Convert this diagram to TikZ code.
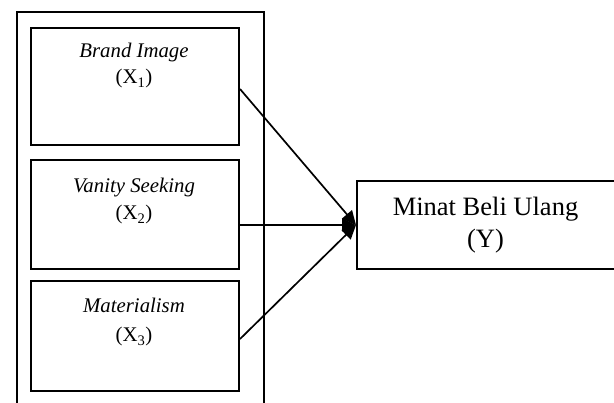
\documentclass[tikz,border=0pt]{standalone}
\usepackage{fontspec}
\setmainfont{Liberation Serif}
\usetikzlibrary{arrows.meta}
\begin{document}
\begin{tikzpicture}[x=1pt,y=-1pt,
  box/.style={draw,line width=2pt,inner sep=0pt,anchor=north west},
  lbl/.style={anchor=base,inner sep=0pt,font=\fontsize{20.8}{26}\selectfont},
  ylbl/.style={anchor=base,inner sep=0pt,font=\fontsize{26.5}{32}\selectfont},
  conn/.style={line width=1.7pt,-{Triangle[length=14pt,width=13pt]}}]
\useasboundingbox (0,0) rectangle (614,403);
\clip (0,0) rectangle (614,403);
\node[box,minimum width=247pt,minimum height=420pt] (outer) at (16,11) {};
\node[box,minimum width=208pt,minimum height=117pt] (b1) at (30,27) {};
\node[box,minimum width=208pt,minimum height=109pt] (b2) at (30,159) {};
\node[box,minimum width=208pt,minimum height=110pt] (b3) at (30,280) {};
\node[box,minimum width=260pt,minimum height=88pt] (yb) at (356,180) {};
\node[lbl] (t1a) at (134,58) {\itshape Brand Image};
\node[lbl] (t1b) at (134,84) {(X\textsubscript{1})};
\node[lbl] (t2a) at (134,193) {\itshape Vanity Seeking};
\node[lbl] (t2b) at (134,220) {(X\textsubscript{2})};
\node[lbl] (t3a) at (134,313) {\itshape Materialism};
\node[lbl] (t3b) at (134,342) {(X\textsubscript{3})};
\node[ylbl] (ya) at (485.5,216) {Minat Beli Ulang};
\node[ylbl] (yy) at (485.5,248) {(Y)};
\draw[conn] ([yshift=-2.5pt]b1.east) -- (yb.west);
\draw[conn] ([yshift=-10.5pt]b2.east) -- (yb.west);
\draw[conn] ([yshift=-3pt]b3.east) -- (yb.west);
\end{tikzpicture}
\end{document}
